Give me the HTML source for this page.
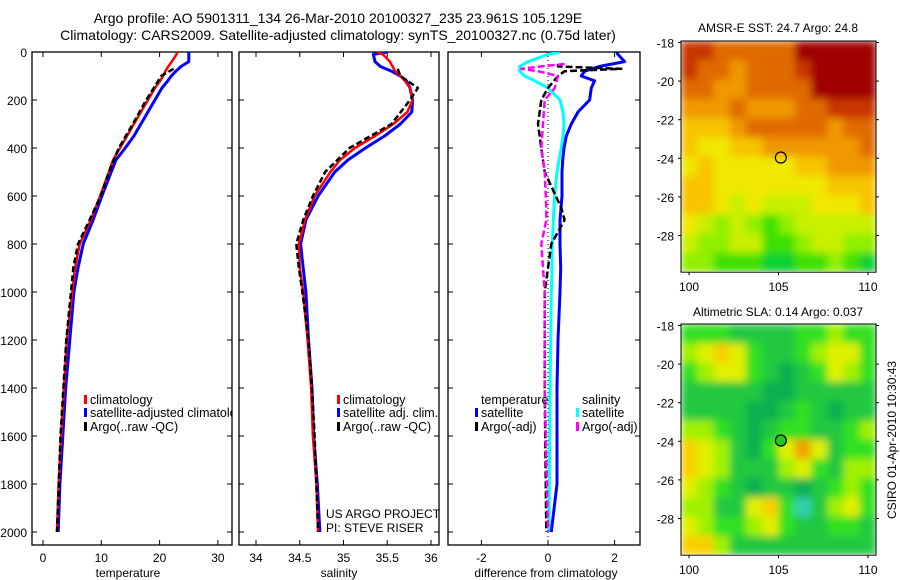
<!DOCTYPE html>
<html><head><meta charset="utf-8"><style>
body{margin:0;background:#fff}
svg{display:block;font-family:"Liberation Sans",Arial,sans-serif}
</style></head><body>
<svg id="c" width="900" height="580" viewBox="0 0 900 580">
<defs>
<clipPath id="cp1"><rect x="32" y="52" width="200" height="493"/></clipPath>
<clipPath id="cp2"><rect x="239" y="52" width="200" height="493"/></clipPath>
<clipPath id="cp3"><rect x="448" y="52" width="192" height="493"/></clipPath>
<clipPath id="mc1"><rect x="681" y="41" width="195" height="230"/></clipPath>
<clipPath id="mc2"><rect x="681" y="324" width="195" height="230"/></clipPath>
<filter id="bl" x="-5%" y="-5%" width="110%" height="110%"><feGaussianBlur stdDeviation="4" edgeMode="duplicate"/></filter>
</defs>
<text x="338" y="23" font-size="14" text-anchor="middle">Argo profile: AO 5901311_134 26-Mar-2010 20100327_235 23.961S 105.129E</text>
<text x="338" y="40" font-size="14" text-anchor="middle">Climatology: CARS2009. Satellite-adjusted climatology: synTS_20100327.nc (0.75d later)</text>
<g id="g"></g>
<text x="778" y="32" font-size="12" text-anchor="middle">AMSR-E SST: 24.7 Argo: 24.8</text>
<text x="778" y="316" font-size="12" text-anchor="middle">Altimetric SLA: 0.14 Argo: 0.037</text>
<text transform="translate(896,440) rotate(-90)" font-size="12" text-anchor="middle">CSIRO 01-Apr-2010 10:30:43</text>
<text x="326" y="518" font-size="12">US ARGO PROJECT</text>
<text x="326" y="532" font-size="12">PI: STEVE RISER</text>
</svg>
<script>
// ---------- data ----------
const depths = [0,10,40,60,80,100,120,150,200,250,300,350,400,450,500,600,700,800,900,1000,1200,1400,1600,1800,2000];
const tempClim = [23.0,22.9,22.1,21.5,21.0,20.6,20.1,19.2,18.0,16.8,15.6,14.4,13.2,12.0,11.3,9.8,8.2,6.3,5.5,5.0,4.1,3.6,3.1,2.7,2.4];
const tempSat  = [25.0,25.0,25.0,23.7,22.8,22.0,21.4,20.4,19.2,18.0,16.8,15.6,14.1,12.5,11.7,10.1,8.6,6.9,6.0,5.3,4.6,3.9,3.4,2.9,2.6];
const argoDepths = [70,100,150,200,300,400,500,600,700,800,900,1000,1200,1400,1600,1800,2000];
const tempArgo = [22.4,20.3,19.0,17.7,15.4,13.0,11.3,9.9,8.0,6.0,5.2,4.8,4.0,3.5,3.0,2.7,2.4];
const salClim = [35.38,35.45,35.53,35.56,35.59,35.65,35.70,35.76,35.79,35.73,35.57,35.36,35.13,34.96,34.85,34.67,34.56,34.49,34.50,34.54,34.59,34.63,34.65,34.69,34.71];
const salSat  = [35.50,35.34,35.36,35.42,35.55,35.65,35.72,35.76,35.79,35.78,35.65,35.47,35.25,35.05,34.90,34.71,34.57,34.51,34.54,34.57,34.60,34.64,34.66,34.70,34.73];
const salArgo = [35.62,35.65,35.85,35.76,35.55,35.07,34.79,34.65,34.54,34.46,34.49,34.53,34.60,34.64,34.67,34.69,34.71];
const dTempSat = [2.07,2.1,2.3,1.55,1.1,1.0,1.4,1.3,1.25,0.9,0.7,0.55,0.48,0.44,0.42,0.42,0.36,0.36,0.38,0.36,0.3,0.27,0.27,0.27,0.1];
const dSalSat  = [0.36,0.0,-0.6,-0.85,-0.85,-0.7,-0.4,0.0,0.36,0.45,0.48,0.45,0.4,0.33,0.27,0.2,0.16,0.13,0.12,0.1,0.08,0.06,0.05,0.04,0.03];
const dArgoDepths = [50,60,70,80,100,150,200,300,400,500,650,700,800,1000,1400,2000];
const dTempArgo = [0.3,0.3,2.2,0.5,0.3,0.0,-0.2,-0.3,-0.2,-0.1,0.4,0.5,0.1,-0.1,-0.1,-0.05];
const dSalArgo  = [0.5,-0.2,-0.8,-0.3,0.3,0.2,-0.1,-0.15,-0.2,-0.1,-0.05,-0.05,-0.2,-0.1,-0.1,0.0];
const depthTicks = [0,200,400,600,800,1000,1200,1400,1600,1800,2000];
const tempTicks = [0,10,20,30];
const salTicks = [34,34.5,35,35.5,36];
const diffTicks = [-2,0,2];
const latTicks = [-18,-20,-22,-24,-26,-28];
const lonTicks = [100,105,110];
const sstGrid = [
[9,9,8,8,8,8,8,10,10,10,10,10],
[9,8,8,7,8,8,8,9,10,10,10,10],
[8,8,7,7,8,8,8,8,10,10,10,10],
[7,7,7,8,7,7,7,8,8,9,9,9],
[6,6,6,7,8,8,8,8,8,7,8,8],
[6,5,5,6,6,7,7,7,7,7,7,8],
[5,6,5,5,5,5,5,6,6,7,7,7],
[6,6,5,5,5,5,5,5,5,6,6,6],
[6,6,5,4,5,4,4,4,5,5,5,6],
[5,4,3,4,3,2,3,4,4,4,4,4],
[4,3,3,4,4,2,2,3,4,4,3,3],
[3,3,2,2,2,1,1,2,2,3,2,1]];
const slaGrid = [
[2,2,2,1,1,1,1,2,2,3,2,2],
[3,4,5,4,2,1,1,2,3,4,4,2],
[2,3,4,4,2,1,0,1,2,4,3,2],
[1,1,1,1,1,0,0,1,1,1,1,1],
[1,1,1,1,0,0,1,2,1,0,1,1],
[3,3,2,1,0,1,2,2,1,1,2,3],
[5,4,3,1,0,2,4,6,4,1,2,2],
[5,4,3,1,1,1,3,4,2,1,3,3],
[4,3,2,1,0,1,1,0,1,2,3,2],
[3,3,1,1,4,5,2,-1,1,3,4,2],
[4,3,2,2,3,4,2,1,1,2,2,1],
[5,5,3,1,1,1,1,1,1,1,1,1]];
const argoLon = 105.13, argoLat = -23.96;

// ---------- drawing ----------
const NS='http://www.w3.org/2000/svg', G=document.getElementById('g');
function mk(t,a,p){const e=document.createElementNS(NS,t);for(const k in a)e.setAttribute(k,a[k]);(p||G).appendChild(e);return e;}
const yD = d => 52 + d*0.24;
const xT = v => 43 + v*5.83;
const xS = v => 256 + (v-34)*87.5;
const xD = v => 548 + v*33.3;
const panels=[[32,232,'cp1'],[239,439,'cp2'],[448,640,'cp3']];
panels.forEach((p,i)=>{
  const r=mk('rect',{x:p[0],y:52,width:p[1]-p[0],height:493,fill:'none',stroke:'#000','stroke-width':1.3});
  
  
  depthTicks.forEach(d=>{
    const y=yD(d);
    mk('line',{x1:p[0],x2:p[0]+5,y1:y,y2:y,stroke:'#000'});
    mk('line',{x1:p[1]-5,x2:p[1],y1:y,y2:y,stroke:'#000'});
  });
});
depthTicks.forEach(d=>{
  const t=mk('text',{x:27,y:yD(d)+5,'font-size':12,'text-anchor':'end'});t.textContent=d;
  
  
});
function xticks(ticks,fx,p){ticks.forEach(v=>{
  const x=fx(v);
  mk('line',{x1:x,x2:x,y1:52,y2:57,stroke:'#000'});
  mk('line',{x1:x,x2:x,y1:540,y2:545,stroke:'#000'});
  const t=mk('text',{x:x,y:562,'font-size':12,'text-anchor':'middle'});t.textContent=v;
  
  
});}
xticks(tempTicks,xT);xticks(salTicks,xS);xticks(diffTicks,xD);
[['temperature',128],['salinity',339],['difference from climatology',546]].forEach(a=>{
  const t=mk('text',{x:a[1],y:577,'font-size':12,'text-anchor':'middle'});t.textContent=a[0];
  
  
});
function line(ds,vs,fx,col,w,dash,clip,name){
  const pts=ds.map((d,i)=>fx(vs[i]).toFixed(1)+','+yD(d).toFixed(1)).join(' ');
  const a={points:pts,fill:'none',stroke:col,'stroke-width':w,'clip-path':'url(#'+clip+')','stroke-linejoin':'round'};
  if(dash)a['stroke-dasharray']=dash;
  const e=mk('polyline',a);
  
  
}
line(depths,tempSat,xT,'#0000ff',3,null,'cp1','temp-satellite-line');
line(depths,tempClim,xT,'#ff0000',2.5,null,'cp1','temp-climatology-line');
line(argoDepths,tempArgo,xT,'#000',2.5,'6,3','cp1','temp-argo-line');
line(depths,salSat,xS,'#0000ff',3,null,'cp2','sal-satellite-line');
line(depths,salClim,xS,'#ff0000',2.5,null,'cp2','sal-climatology-line');
line(argoDepths,salArgo,xS,'#000',2.5,'6,3','cp2','sal-argo-line');
const z=mk('line',{x1:xD(0),x2:xD(0),y1:52,y2:545,stroke:'#000','stroke-dasharray':'1,3'});


line(depths,dSalSat,xD,'#00ffff',3,null,'cp3','dsal-satellite-line');
line(depths,dTempSat,xD,'#0000ff',3,null,'cp3','dtemp-satellite-line');
line(dArgoDepths,dTempArgo,xD,'#000',2.5,'7,3','cp3','dtemp-argo-line');
line(dArgoDepths,dSalArgo,xD,'#ff00ff',2.5,'7,3','cp3','dsal-argo-line');
function leg(x,y,col,txt,clip){
  if(col){const m=mk('rect',{x:x-6,y:y-9,width:3,height:9,fill:col});
    
    }
  const t=mk('text',{x:x,y:y,'font-size':12.5});t.textContent=txt;
  if(clip)t.setAttribute('clip-path','url(#'+clip+')');
  
  
}
leg(90,404,'#ff0000','climatology','cp1');leg(90,417,'#0000ff','satellite-adjusted climatology','cp1');leg(90,431,'#000','Argo(..raw -QC)','cp1');
leg(343,404,'#ff0000','climatology');leg(343,417,'#0000ff','satellite adj. clim.');leg(343,431,'#000','Argo(..raw -QC)');
leg(481,404,null,'temperature','cp3');leg(481,417,'#0000ff','satellite');leg(481,431,'#000','Argo(-adj)');
leg(582,404,null,'salinity');leg(582,417,'#00ffff','satellite');leg(582,431,'#ff00ff','Argo(-adj)');

// maps
const sstCols=['#00c040','#10d030','#40e000','#90f000','#c8f000','#f0e800','#f8c400','#f09800','#e06a00','#c83400','#a00000'];
const slaCols={'-1':'#30d0b0','0':'#10b050','1':'#20c840','2':'#30e020','3':'#a0f000','4':'#e0f000','5':'#f8d000','6':'#f0a000'};
function map(y0,grid,colf,name,clip){
  const x0=681,x1=876,lonMin=99.55,lonMax=110.45;
  const xL=v=>x0+(v-lonMin)/(lonMax-lonMin)*(x1-x0);
  const yL=v=>y0+( -18 - v)*19.3 + 1.5;
  const rows=grid.length,cols=grid[0].length;
  const cw=(x1-x0)/cols, ch=(yL(-29.9)-y0)/rows;
  const outer=mk('g',{'clip-path':'url(#'+clip+')'});
  const cg=mk('g',{filter:'url(#bl)'},outer);
  grid.forEach((row,r)=>row.forEach((v,c)=>{
    const e=mk('rect',{x:x0+c*cw,y:y0+r*ch,width:cw+0.5,height:ch+0.5,fill:colf(v)},cg);
    
    
  }));
  const f=mk('rect',{x:x0,y:y0,width:x1-x0,height:yL(-29.9)-y0,fill:'none',stroke:'#000'});
  
  
  latTicks.forEach(v=>{const y=yL(v);
    mk('line',{x1:x0-3,x2:x0,y1:y,y2:y,stroke:'#000'});mk('line',{x1:x1,x2:x1+3,y1:y,y2:y,stroke:'#000'});
    const t=mk('text',{x:674,y:y+5,'font-size':12,'text-anchor':'end'});t.textContent=v;
    
    });
  const yb=yL(-29.9);
  lonTicks.forEach(v=>{const x=xL(v);
    mk('line',{x1:x,x2:x,y1:yb,y2:yb+3,stroke:'#000'});
    const t=mk('text',{x:x,y:yb+19,'font-size':12,'text-anchor':'middle'});t.textContent=v;
    
    });
  const m=mk('circle',{cx:xL(argoLon),cy:yL(argoLat),r:5.5,fill:name==='sla-map'?'#20c820':'none',stroke:'#000','stroke-width':1.2});
  
  
}
map(41,sstGrid,v=>sstCols[v],'sst-map','mc1');
map(324,slaGrid,v=>slaCols[v],'sla-map','mc2');
</script>
</body></html>
